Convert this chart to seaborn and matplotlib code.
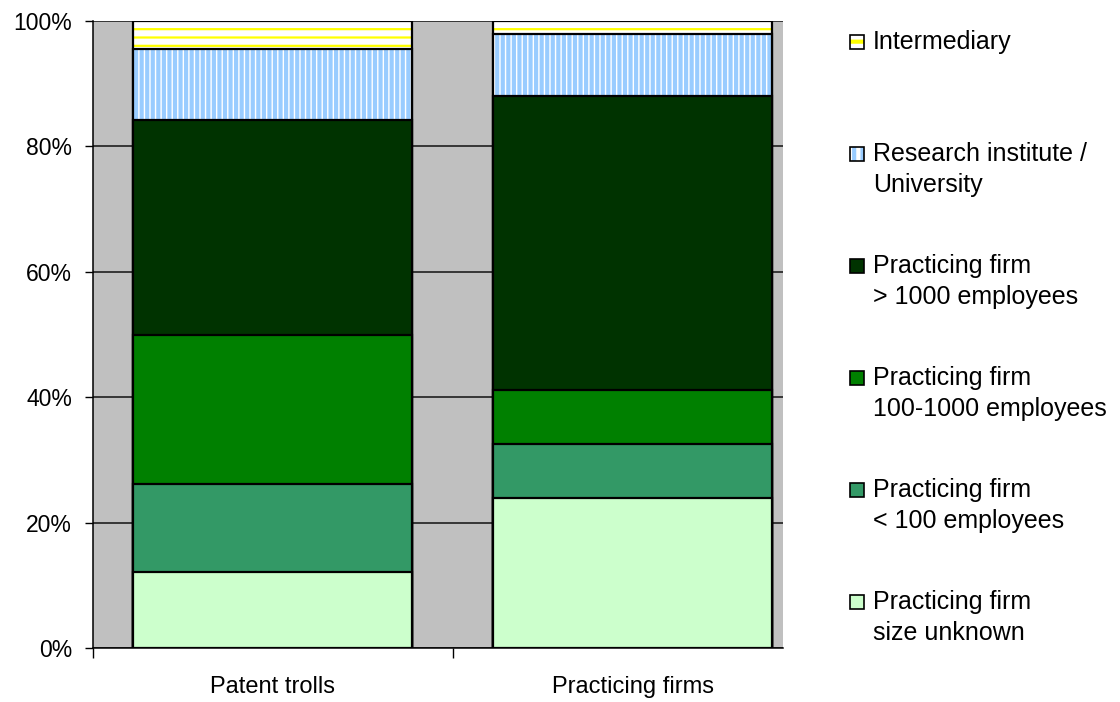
import matplotlib
matplotlib.use("Agg")
import matplotlib.pyplot as plt
import seaborn as sns
import numpy as np
from matplotlib.patches import Rectangle
from matplotlib.ticker import PercentFormatter, FixedLocator

# data (share of each group, %)
categories = ["Patent trolls", "Practicing firms"]
segment_labels = [
    "Practicing firm\nsize unknown",
    "Practicing firm\n< 100 employees",
    "Practicing firm\n100-1000 employees",
    "Practicing firm\n> 1000 employees",
    "Research institute /\nUniversity",
    "Intermediary",
]
patent_trolls = [12.2, 14.0, 23.7, 34.3, 11.4, 4.4]
practicing_firms = [24.0, 8.6, 8.6, 46.8, 9.9, 2.1]

face_colors = ["#CCFFCC", "#339966", "#008000", "#003300", "#FFFFFF", "#FFFFFF"]
hatch_colors = [None, None, None, None, "#99CCFF", "#FFFF00"]
hatch_styles = [None, None, None, None, "|||", "--"]
hatch_widths = [None, None, None, None, 3.0, 1.6]
legend_hatches = [None, None, None, None, "||", "-"]

sns.set_style("white")
plt.rcParams['font.family'] = ['Liberation Sans', 'DejaVu Sans']
plt.rcParams['text.color'] = 'black'
plt.rcParams['xtick.color'] = 'black'
plt.rcParams['ytick.color'] = 'black'

fig = plt.figure(figsize=(11.2, 7.02), dpi=100)
ax = fig.add_axes([93 / 1120, 1 - 648 / 702, (783 - 93) / 1120, (648 - 21) / 702])
ax.set_facecolor("#C0C0C0")

values = np.array([patent_trolls, practicing_firms])
cum = np.cumsum(values, axis=1)
cum[:, -1] = 100.0

bar_width = 0.775
# stack by drawing cumulative totals from the top layer down
for i in range(len(segment_labels) - 1, -1, -1):
    if hatch_styles[i]:
        plt.rcParams['hatch.linewidth'] = hatch_widths[i]
        sns.barplot(x=categories, y=cum[:, i], color=face_colors[i], saturation=1,
                    width=bar_width, edgecolor=hatch_colors[i], linewidth=0,
                    hatch=hatch_styles[i], ax=ax)
        sns.barplot(x=categories, y=cum[:, i], color="black", fill=False,
                    width=bar_width, linewidth=1.6, ax=ax)
    else:
        sns.barplot(x=categories, y=cum[:, i], color=face_colors[i], saturation=1,
                    width=bar_width, edgecolor="black", linewidth=1.6, ax=ax)

ax.set_xlim(-0.5, 1.417)
ax.set_ylim(0, 100)
ax.set_yticks(range(0, 101, 20))
ax.yaxis.set_major_formatter(PercentFormatter(decimals=0))
ax.yaxis.grid(True, color="#111111", linewidth=1.1)
ax.set_axisbelow(True)
ax.set_xlabel("")
ax.set_ylabel("")

ax.xaxis.set_minor_locator(FixedLocator([-0.5, 0.5]))
ax.tick_params(axis="x", which="major", length=0, pad=20, labelsize=17)
ax.tick_params(axis="x", which="minor", length=7, width=1, color="black", direction="out")
ax.tick_params(axis="y", length=6, width=1, color="black", direction="out", pad=9, labelsize=16.5)
ax.yaxis.set_ticks_position("left")
ax.xaxis.set_ticks_position("bottom")

for side in ["top", "right"]:
    ax.spines[side].set_visible(False)
for side in ["left", "bottom"]:
    ax.spines[side].set_color("black")
    ax.spines[side].set_linewidth(1.1)

# legend, top entry first (same order as the stack, reversed)
W, H = 1120, 702
y0, step, line_gap = 42, 112, 31
plt.rcParams['hatch.linewidth'] = 3.0
for k, i in enumerate(range(len(segment_labels) - 1, -1, -1)):
    yc = y0 + k * step
    box = (850 / W, 1 - (yc + 7) / H)
    if hatch_colors[i]:
        fig.patches.append(Rectangle(box, 14 / W, 14 / H, transform=fig.transFigure,
                                     facecolor=face_colors[i], edgecolor=hatch_colors[i],
                                     linewidth=0, hatch=legend_hatches[i]))
        fig.patches.append(Rectangle(box, 14 / W, 14 / H, transform=fig.transFigure,
                                     facecolor="none", edgecolor="black", linewidth=1.2))
    else:
        fig.patches.append(Rectangle(box, 14 / W, 14 / H, transform=fig.transFigure,
                                     facecolor=face_colors[i], edgecolor="black",
                                     linewidth=1.2))
    for j, line in enumerate(segment_labels[i].split("\n")):
        fig.text(873 / W, 1 - (yc + j * line_gap) / H, line, fontsize=18,
                 va="center", ha="left")

fig.savefig("out.png", dpi=100)
